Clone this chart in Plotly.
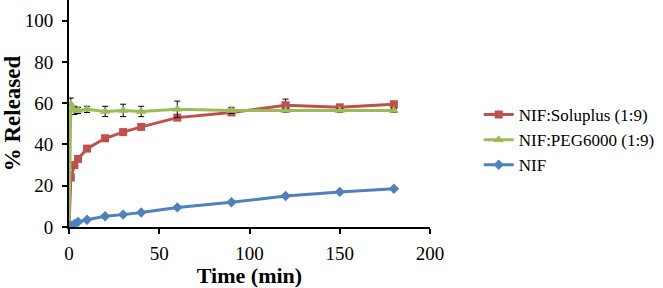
import plotly.graph_objects as go

time = [0, 1, 3, 5, 10, 20, 30, 40, 60, 90, 120, 150, 180]
soluplus = [0, 24, 30, 33, 38, 43, 46, 48.5, 53, 55.5, 59, 58, 59.5]
soluplus_err = [0, 1.5, 1.5, 1, 1, 1, 1, 1, 1, 1, 3, 1, 1]
peg = [0, 59.5, 56.5, 56.5, 57, 56, 56.5, 56, 57, 56.5, 56.5, 56.5, 56.5]
peg_err = [0, 3, 2, 1.5, 1.5, 2.5, 3, 2.5, 4, 1.5, 1, 1, 1]
nif = [0, 0.7, 1.5, 2.5, 3.5, 5.2, 6, 7, 9.5, 12, 15, 17, 18.5]

RED = "#C0504D"
GREEN = "#9BBB59"
BLUE = "#4F81BD"

fig = go.Figure()
fig.add_trace(go.Scatter(
    x=time, y=soluplus, name="NIF:Soluplus (1:9)", mode="lines+markers",
    line=dict(color=RED, width=3), marker=dict(symbol="square", size=8, color=RED),
    error_y=dict(type="data", array=soluplus_err, color="black", thickness=1, width=3)))
fig.add_trace(go.Scatter(
    x=time, y=peg, name="NIF:PEG6000 (1:9)", mode="lines+markers",
    line=dict(color=GREEN, width=3), marker=dict(symbol="triangle-up", size=9, color=GREEN),
    error_y=dict(type="data", array=peg_err, color="black", thickness=1, width=3)))
fig.add_trace(go.Scatter(
    x=time, y=nif, name="NIF", mode="lines+markers",
    line=dict(color=BLUE, width=3), marker=dict(symbol="diamond", size=8, color=BLUE)))

font = "Liberation Serif"
fig.update_layout(
    width=663, height=288,
    margin=dict(l=69, r=233, t=0, b=61),
    plot_bgcolor="white", paper_bgcolor="white",
    font=dict(family=font, size=18, color="black"),
    showlegend=True,
    legend=dict(x=1.135, y=0.383, xanchor="left", yanchor="middle",
                font=dict(family=font, size=17), tracegroupgap=0,
                itemwidth=30, bgcolor="rgba(0,0,0,0)"),
    xaxis=dict(range=[0, 200], tickvals=[0, 50, 100, 150, 200], automargin=False,
               showgrid=False, zeroline=False, showline=True, linecolor="black",
               linewidth=2, ticks="outside", ticklen=5, tickwidth=2, tickcolor="black",
               ticklabelstandoff=3,
               tickfont=dict(family=font, size=19),
               title=dict(text="<b>Time (min)</b>", font=dict(family=font, size=22), standoff=2)),
    yaxis=dict(range=[0, 110], tickvals=[0, 20, 40, 60, 80, 100], automargin=False,
               showgrid=False, zeroline=False, showline=True, linecolor="black",
               linewidth=2, ticks="outside", ticklen=5, tickwidth=2, tickcolor="black",
               ticklabelstandoff=5,
               tickfont=dict(family=font, size=19),
               title=dict(text="<b>% Released</b>", font=dict(family=font, size=23), standoff=2)),
)
fig.write_html("out.html", config={"displayModeBar": False},
               post_script="document.body.style.margin='0';")
